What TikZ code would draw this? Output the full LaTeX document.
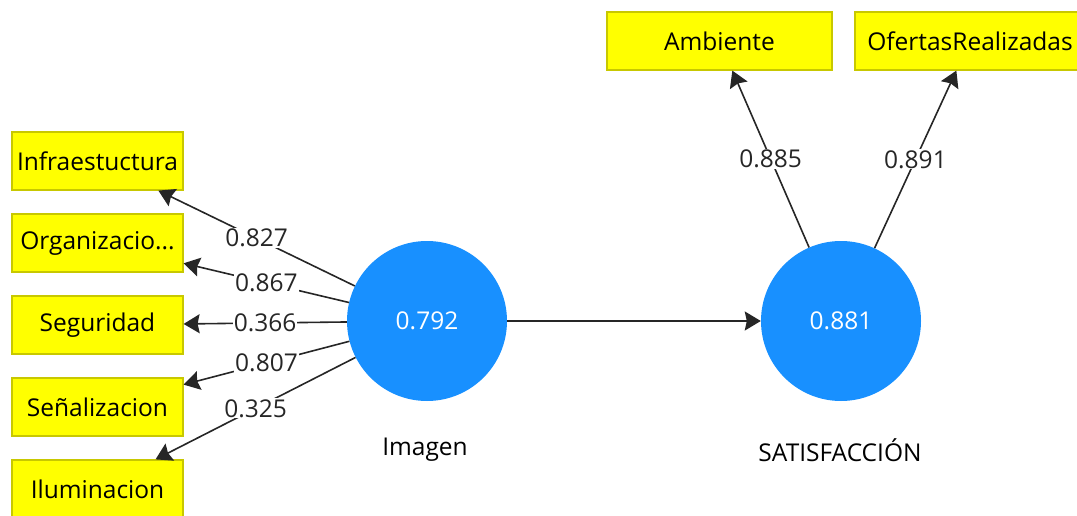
\documentclass[tikz,border=0pt]{standalone}
\usepackage{fontspec}
\setmainfont{Open Sans}
\usetikzlibrary{arrows.meta}
\definecolor{indyellow}{HTML}{FFFF00}
\definecolor{indborder}{HTML}{C8C800}
\definecolor{latblue}{HTML}{1890FF}
\tikzset{
    indicator/.style={draw=indborder, fill=indyellow, line width=1.2pt, minimum width=171pt, minimum height=58pt, inner sep=0pt, font=\fontsize{24.5}{28}\selectfont},
    latent/.style={circle, fill=latblue, minimum size=160pt, inner sep=0pt, text=white, font=\fontsize{24.5}{28}\selectfont},
    loading/.style={line width=1.6pt, draw=black!85, -{Stealth[length=16pt,width=19pt,inset=2pt]}},
    weight/.style={fill=white, inner sep=1pt, text=black!85, font=\fontsize{24.5}{28}\selectfont}
}
\begin{document}
\begin{tikzpicture}[x=1pt, y=-1pt]
    \useasboundingbox (0,0) rectangle (1077,516);

    % Latent variables
    \node (img) at (427,321) [latent] {0.792};
    \node (sat) at (841,321) [latent] {0.881};
    \node (imglabel) at (425,450) [font=\fontsize{24.5}{28}\selectfont] {Imagen};
    \node (satlabel) at (840,450) [font=\fontsize{24.5}{28}\selectfont] {SATISFACCIÓN};

    % Indicators of Imagen
    \node (infra) at (97.5,161) [indicator] {Infraestuctura};
    \node (orga) at (97.5,243) [indicator] {Organizacio...};
    \node (segu) at (97.5,325) [indicator] {Seguridad};
    \node (sena) at (97.5,407) [indicator] {Señalizacion};
    \node (ilum) at (97.5,489) [indicator] {Iluminacion};

    % Indicators of SATISFACCION
    \node (ambi) at (719.5,41) [indicator, minimum width=225pt] {Ambiente};
    \node (ofer) at (970,41) [indicator, minimum width=230pt] {OfertasRealizadas};

    % Outer loadings
    \draw[loading] (img) -- node[weight] {0.827} (infra);
    \draw[loading] (img) -- node[weight] {0.867} (orga);
    \draw[loading] (img) -- node[weight] {0.366} (segu);
    \draw[loading] (img) -- node[weight] {0.807} (sena);
    \draw[loading] (img) -- node[weight] {0.325} (ilum);
    \draw[loading] (sat) -- node[weight] {0.885} (ambi);
    \draw[loading] (sat) -- node[weight] {0.891} (ofer);

    % Path
    \draw[loading] (img) -- (sat);
\end{tikzpicture}
\end{document}
